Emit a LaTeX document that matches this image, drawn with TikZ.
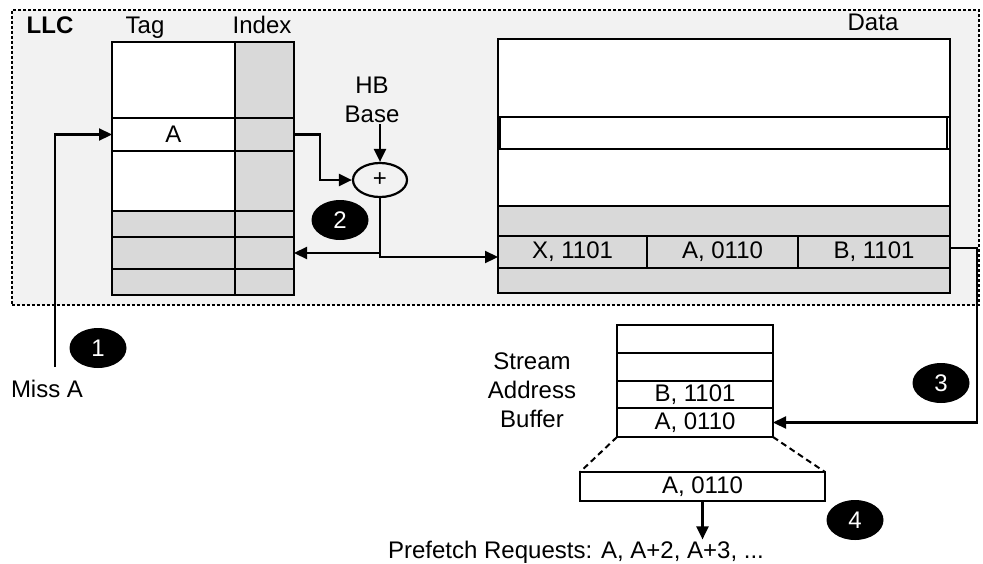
\documentclass[tikz,border=0pt]{standalone}
\usepackage{fontspec}
\setmainfont{Liberation Sans}
\usetikzlibrary{arrows.meta,shapes.geometric,calc}

\definecolor{cellgray}{HTML}{D9D9D9}
\definecolor{llcbg}{HTML}{F2F2F2}

\begin{document}
\begin{tikzpicture}[x=1pt,y=-1pt,
  font=\fontsize{24}{29}\selectfont,
  cell/.style={draw, line width=2.5pt, anchor=north west, inner sep=0pt, outer sep=0pt},
  wcell/.style={cell, fill=white},
  gcell/.style={cell, fill=cellgray},
  wire/.style={line width=2.2pt},
  arr/.style={wire, -{Triangle[length=13pt,width=12pt]}},
  badge/.style={ellipse, fill=black, text=white, minimum width=57pt, minimum height=40pt, inner sep=0pt},
  lbl/.style={inner sep=1pt},
]
\useasboundingbox (0,0) rectangle (983,563);

% LLC region
\node[draw, line width=1.5pt, dash pattern=on 3pt off 2pt, fill=llcbg,
      anchor=north west, minimum width=967, minimum height=295, inner sep=0pt] (llc) at (11,9) {};
\node[lbl, anchor=base] (llclbl) at (50,33) {\bfseries LLC};
\node[lbl, anchor=base] (taglbl) at (145,33) {Tag};
\node[lbl, anchor=base] (idxlbl) at (262,33) {Index};
\node[lbl, anchor=base] (datalbl) at (873,30) {Data};

% tag / index array
\node[wcell, minimum width=123, minimum height=76] (t1) at (112,42) {};
\node[wcell, minimum width=123, minimum height=33] (t2) at (112,118) {A};
\node[wcell, minimum width=123, minimum height=60] (t3) at (112,151) {};
\node[gcell, minimum width=123, minimum height=26] (t4) at (112,211) {};
\node[gcell, minimum width=123, minimum height=32] (t5) at (112,237) {};
\node[gcell, minimum width=123, minimum height=26] (t6) at (112,269) {};
\node[gcell, minimum width=59, minimum height=76] (i1) at (235,42) {};
\node[gcell, minimum width=59, minimum height=33] (i2) at (235,118) {};
\node[gcell, minimum width=59, minimum height=60] (i3) at (235,151) {};
\node[gcell, minimum width=59, minimum height=26] (i4) at (235,211) {};
\node[gcell, minimum width=59, minimum height=32] (i5) at (235,237) {};
\node[gcell, minimum width=59, minimum height=26] (i6) at (235,269) {};

% data array
\node[wcell, minimum width=452, minimum height=254] (data) at (498,39) {};
\node[wcell, minimum width=452, minimum height=78] (d1) at (498,39) {};
\node[wcell, minimum width=447, minimum height=32] (d2) at (500,117) {};
\node[wcell, minimum width=452, minimum height=57] (d3) at (498,149) {};
\node[gcell, minimum width=452, minimum height=30] (d4) at (498,206) {};
\node[gcell, minimum width=149, minimum height=32] (X) at (498,236) {X, 1101};
\node[gcell, minimum width=151, minimum height=32] (A) at (647,236) {A, 0110};
\node[gcell, minimum width=152, minimum height=32] (B) at (798,236) {B, 1101};
\node[gcell, minimum width=452, minimum height=25] (d6) at (498,268) {};

% adder
\node[lbl, align=center] (hb) at (372,100) {HB\\Base};
\node[draw, ellipse, line width=2.2pt, minimum width=54, minimum height=34, inner sep=0pt] (add) at (380,180) {+};

% stream address buffer
\node[lbl, align=center] (sablbl) at (532,390) {Stream\\Address\\Buffer};
\node[wcell, minimum width=156, minimum height=28] (s1) at (617,325) {};
\node[wcell, minimum width=156, minimum height=28] (s2) at (617,353) {};
\node[wcell, minimum width=156, minimum height=27] (s3) at (617,381) {B, 1101};
\node[wcell, minimum width=156, minimum height=29] (s4) at (617,408) {A, 0110};
\node[wcell, minimum width=245, minimum height=29] (ex) at (580,472) {A, 0110};

\node[lbl, anchor=base] (pf) at (576,558) {Prefetch Requests: A, A+2, A+3, ...};
\node[lbl, anchor=base] (miss) at (47,397) {Miss A};

% step badges
\node[badge] (b1) at (98,348) {1};
\node[badge] (b2) at (340,220) {2};
\node[badge] (b3) at (941,383) {3};
\node[badge] (b4) at (855,520) {4};

% connectors
\coordinate (missup) at (55,367);
\draw[arr] (missup) |- (t2.west);
\draw[arr] (i2.east) -- ++(26,0) |- (add.west);
\draw[arr] (hb.south -| add.north) -- (add.north);
\draw[arr] (add.south) |- ($(X.west)+(0,5)$);
\draw[arr] (add.south |- i5.east) -- (i5.east);
\coordinate (turn) at (977,248);
\draw[arr] (turn -| B.east) -- (turn) |- (s4.east);
\draw[line width=2pt, dash pattern=on 6pt off 4pt] (s4.south west) -- (ex.north west);
\draw[line width=2pt, dash pattern=on 6pt off 4pt] (s4.south east) -- (ex.north east);
\draw[arr] (ex.south) -- (ex.south |- pf.north);
\end{tikzpicture}
\end{document}
